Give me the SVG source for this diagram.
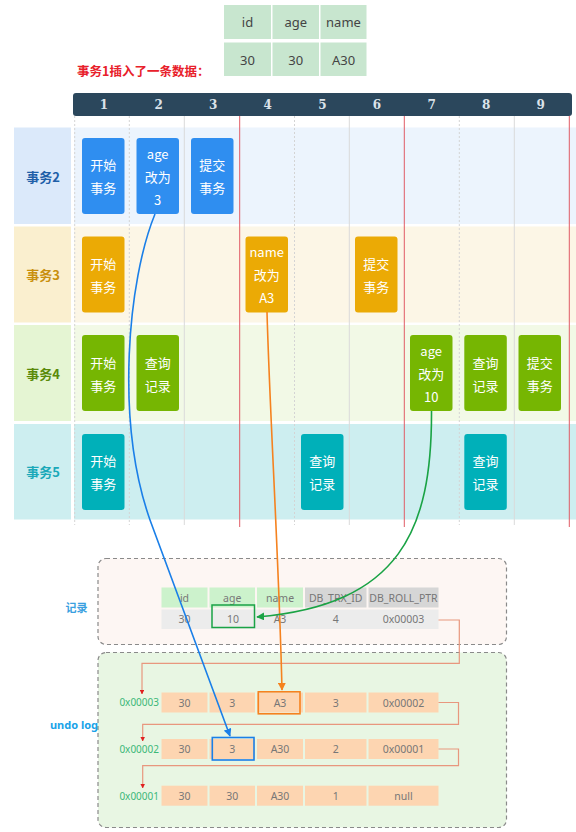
<svg xmlns="http://www.w3.org/2000/svg" width="576" height="832" viewBox="0 0 576 832">
<defs>
<style>
text{font-family:"Noto Sans","Noto Sans CJK SC",sans-serif;}
.cjk{font-family:"Noto Sans CJK SC","Noto Sans",sans-serif;}
.bt{fill:#fff;font-size:13px;text-anchor:middle;dominant-baseline:central;font-family:"Noto Sans CJK SC","Noto Sans",sans-serif;}
.hn{fill:#dbe3ea;font-size:12px;font-weight:bold;text-anchor:middle;dominant-baseline:central;font-family:"DejaVu Serif",serif;}
.rl{font-size:13px;font-weight:bold;text-anchor:middle;dominant-baseline:central;font-family:"Noto Sans CJK SC","Noto Sans",sans-serif;}
.tt{fill:#444;font-size:13px;text-anchor:middle;dominant-baseline:central;}
.ct{fill:#777;font-size:10.5px;text-anchor:middle;dominant-baseline:central;}
.ad{fill:#3cb878;font-size:10px;text-anchor:end;dominant-baseline:central;}
.dot{stroke:#d4d4d4;stroke-width:1;stroke-dasharray:2,2;}
.sol{stroke:#dadada;stroke-width:1;}
.red{stroke:#e05c66;stroke-width:1;}
.blue{fill:#2f8ef0;}
.orng{fill:#ebaa05;}
.grn{fill:#76b602;}
.teal{fill:#00b0b9;}
.ptr{fill:none;stroke:#e8977e;stroke-width:1.2;}
.uc{fill:#fdd5b1;}
</style>
<marker id="mRed" viewBox="0 0 10 10" refX="9" refY="5" markerWidth="4" markerHeight="4" orient="auto"><path d="M0,0 L10,5 L0,10 z" fill="#e02020"/></marker>
<marker id="mBlue" viewBox="0 0 10 10" refX="9" refY="5" markerWidth="5" markerHeight="5" orient="auto"><path d="M0,0 L10,5 L0,10 z" fill="#1a7fe8"/></marker>
<marker id="mOrg" viewBox="0 0 10 10" refX="9" refY="5" markerWidth="5" markerHeight="5" orient="auto"><path d="M0,0 L10,5 L0,10 z" fill="#f5821f"/></marker>
<marker id="mGrn" viewBox="0 0 10 10" refX="9" refY="5" markerWidth="5" markerHeight="5" orient="auto"><path d="M0,0 L10,5 L0,10 z" fill="#1aa345"/></marker>
</defs>
<rect width="576" height="832" fill="#fff"/>

<!-- top insert table -->
<g id="insert-table">
<rect x="224" y="5" width="47" height="34" fill="#c8e6cf"/>
<rect x="272.5" y="5" width="46.5" height="34" fill="#c8e6cf"/>
<rect x="320.5" y="5" width="46" height="34" fill="#c8e6cf"/>
<rect x="224" y="42.5" width="47" height="33.5" fill="#c8e6cf"/>
<rect x="272.5" y="42.5" width="46.5" height="33.5" fill="#c8e6cf"/>
<rect x="320.5" y="42.5" width="46" height="33.5" fill="#c8e6cf"/>
<text class="tt" x="247.5" y="22">id</text>
<text class="tt" x="295.7" y="22">age</text>
<text class="tt" x="343.5" y="22">name</text>
<text class="tt" x="247.5" y="59.5">30</text>
<text class="tt" x="295.7" y="59.5">30</text>
<text class="tt" x="343.5" y="59.5">A30</text>
</g>
<text class="cjk" x="77" y="70" fill="#e8202a" font-size="12.5" font-weight="bold" dominant-baseline="central">事务1插入了一条数据：</text>

<!-- header -->
<g id="header">
<rect x="73" y="93" width="499" height="23" rx="3" fill="#2b475c"/>
<text class="hn" x="104" y="105">1</text>
<text class="hn" x="158.6" y="105">2</text>
<text class="hn" x="213.2" y="105">3</text>
<text class="hn" x="267.8" y="105">4</text>
<text class="hn" x="322.4" y="105">5</text>
<text class="hn" x="377" y="105">6</text>
<text class="hn" x="431.6" y="105">7</text>
<text class="hn" x="486.2" y="105">8</text>
<text class="hn" x="540.8" y="105">9</text>
</g>

<!-- rows -->
<g id="rows">
<rect x="14" y="127.5" width="57" height="96.5" fill="#dbe9fa"/>
<rect x="74" y="127.5" width="502" height="96.5" fill="#ecf4fd"/>
<rect x="14" y="226.5" width="57" height="96" fill="#faefcf"/>
<rect x="74" y="226.5" width="502" height="96" fill="#fcf6e6"/>
<rect x="14" y="325" width="57" height="96" fill="#e5f5d3"/>
<rect x="74" y="325" width="502" height="96" fill="#f2f9e6"/>
<rect x="14" y="424" width="57" height="95.5" fill="#cdeef0"/>
<rect x="74" y="424" width="502" height="95.5" fill="#cdeef0"/>
<text class="rl" x="43" y="176" fill="#1f5fa8">事务2</text>
<text class="rl" x="43" y="274.5" fill="#c9900e">事务3</text>
<text class="rl" x="43" y="373" fill="#5a8a0a">事务4</text>
<text class="rl" x="43" y="471.5" fill="#1ba9b9">事务5</text>
</g>

<!-- grid lines -->
<g id="grid">
<line class="dot" x1="74.7" y1="116" x2="74.7" y2="525"/>
<line class="dot" x1="129.3" y1="116" x2="129.3" y2="525"/>
<line class="sol" x1="184.3" y1="116" x2="184.3" y2="525"/>
<line class="red" x1="239.7" y1="116" x2="239.7" y2="527"/>
<line class="dot" x1="294.5" y1="116" x2="294.5" y2="525"/>
<line class="sol" x1="349.3" y1="116" x2="349.3" y2="525"/>
<line class="red" x1="404.3" y1="116" x2="404.3" y2="527"/>
<line class="dot" x1="459.3" y1="116" x2="459.3" y2="525"/>
<line class="sol" x1="514.3" y1="116" x2="514.3" y2="525"/>
<line class="red" x1="569.3" y1="116" x2="569.3" y2="527"/>
</g>

<!-- 事务2 -->
<g id="t2-c1"><rect class="blue" x="82" y="138" width="42.5" height="76" rx="3"/><text class="bt" x="103.2" y="164">开始</text><text class="bt" x="103.2" y="187">事务</text></g>
<g id="t2-c2"><rect class="blue" x="136.5" y="138" width="42.5" height="76" rx="3"/><text class="bt" x="157.7" y="153">age</text><text class="bt" x="157.7" y="176">改为</text><text class="bt" x="157.7" y="199">3</text></g>
<g id="t2-c3"><rect class="blue" x="191" y="138" width="42.5" height="76" rx="3"/><text class="bt" x="212.2" y="164">提交</text><text class="bt" x="212.2" y="187">事务</text></g>
<!-- 事务3 -->
<g id="t3-c1"><rect class="orng" x="82" y="236.5" width="42.5" height="76" rx="3"/><text class="bt" x="103.2" y="263">开始</text><text class="bt" x="103.2" y="286">事务</text></g>
<g id="t3-c4"><rect class="orng" x="245.5" y="236.5" width="42.5" height="76" rx="3"/><text class="bt" x="266.7" y="251">name</text><text class="bt" x="266.7" y="274">改为</text><text class="bt" x="266.7" y="297">A3</text></g>
<g id="t3-c6"><rect class="orng" x="355" y="236.5" width="42.5" height="76" rx="3"/><text class="bt" x="376.2" y="263">提交</text><text class="bt" x="376.2" y="286">事务</text></g>
<!-- 事务4 -->
<g id="t4-c1"><rect class="grn" x="82" y="335" width="42.5" height="76" rx="3"/><text class="bt" x="103.2" y="362">开始</text><text class="bt" x="103.2" y="385">事务</text></g>
<g id="t4-c2"><rect class="grn" x="136.5" y="335" width="42.5" height="76" rx="3"/><text class="bt" x="157.7" y="362">查询</text><text class="bt" x="157.7" y="385">记录</text></g>
<g id="t4-c7"><rect class="grn" x="410" y="335" width="42.5" height="76" rx="3"/><text class="bt" x="431.2" y="350">age</text><text class="bt" x="431.2" y="373">改为</text><text class="bt" x="431.2" y="396">10</text></g>
<g id="t4-c8"><rect class="grn" x="464.3" y="335" width="42.5" height="76" rx="3"/><text class="bt" x="485.5" y="362">查询</text><text class="bt" x="485.5" y="385">记录</text></g>
<g id="t4-c9"><rect class="grn" x="518.5" y="335" width="42.5" height="76" rx="3"/><text class="bt" x="539.7" y="362">提交</text><text class="bt" x="539.7" y="385">事务</text></g>
<!-- 事务5 -->
<g id="t5-c1"><rect class="teal" x="82" y="434" width="42.5" height="76" rx="3"/><text class="bt" x="103.2" y="460">开始</text><text class="bt" x="103.2" y="483">事务</text></g>
<g id="t5-c5"><rect class="teal" x="301" y="434" width="42.5" height="76" rx="3"/><text class="bt" x="322.2" y="460">查询</text><text class="bt" x="322.2" y="483">记录</text></g>
<g id="t5-c8"><rect class="teal" x="464.3" y="434" width="42.5" height="76" rx="3"/><text class="bt" x="485.5" y="460">查询</text><text class="bt" x="485.5" y="483">记录</text></g>

<!-- record box -->
<g id="record">
<rect x="98" y="558.5" width="408.5" height="86" rx="8" fill="#fdf6f3" stroke="#8a8a8a" stroke-width="1.2" stroke-dasharray="4,3"/>
<text class="cjk" x="76.5" y="606.5" fill="#3aa0e0" font-size="11" font-weight="bold" text-anchor="middle" dominant-baseline="central">记录</text>
<rect x="161.5" y="587.5" width="46" height="20" fill="#ccf2cc"/>
<rect x="209.5" y="587.5" width="45.5" height="20" fill="#ccf2cc"/>
<rect x="257" y="587.5" width="46" height="20" fill="#ccf2cc"/>
<rect x="305" y="587.5" width="61.5" height="20" fill="#d6d6d6"/>
<rect x="368.5" y="587.5" width="70" height="20" fill="#d6d6d6"/>
<rect x="161.5" y="609.5" width="277" height="19.5" fill="#ececec"/>
<text class="ct" x="184.5" y="597.5">id</text>
<text class="ct" x="232.2" y="597.5">age</text>
<text class="ct" x="280" y="597.5">name</text>
<text class="ct" x="335.7" y="597.5">DB_TRX_ID</text>
<text class="ct" x="403.5" y="597.5">DB_ROLL_PTR</text>
<text class="ct" x="184.5" y="619">30</text>
<text class="ct" x="233" y="619">10</text>
<text class="ct" x="280" y="619">A3</text>
<text class="ct" x="335.7" y="619">4</text>
<text class="ct" x="403.5" y="619">0x00003</text>
<rect x="212" y="605" width="42.5" height="22.5" fill="none" stroke="#1aa345" stroke-width="1.5"/>
</g>

<!-- undo log box -->
<g id="undolog">
<rect x="98" y="652.5" width="408.5" height="175" rx="8" fill="#e8f6e3" stroke="#8a8a8a" stroke-width="1.2" stroke-dasharray="4,3"/>
<text x="74" y="724.5" fill="#1aa3e8" font-size="11" font-weight="bold" text-anchor="middle" dominant-baseline="central">undo log</text>
</g>
<g id="undo-row-0x00003">
<text class="ad" x="159" y="702.3">0x00003</text>
<rect class="uc" x="161.5" y="692.5" width="46" height="20"/>
<rect class="uc" x="209.5" y="692.5" width="45.5" height="20"/>
<rect class="uc" x="257" y="692.5" width="46" height="20"/>
<rect class="uc" x="305" y="692.5" width="61.5" height="20"/>
<rect class="uc" x="368.5" y="692.5" width="70" height="20"/>
<text class="ct" x="184.5" y="702.5">30</text><text class="ct" x="232.2" y="702.5">3</text><text class="ct" x="280" y="702.5">A3</text><text class="ct" x="335.7" y="702.5">3</text><text class="ct" x="403.5" y="702.5">0x00002</text>
<rect x="258.3" y="691.8" width="41.7" height="22" fill="none" stroke="#f5821f" stroke-width="1.6"/>
</g>
<g id="undo-row-0x00002">
<text class="ad" x="159" y="749">0x00002</text>
<rect class="uc" x="161.5" y="739" width="46" height="20"/>
<rect class="uc" x="209.5" y="739" width="45.5" height="20"/>
<rect class="uc" x="257" y="739" width="46" height="20"/>
<rect class="uc" x="305" y="739" width="61.5" height="20"/>
<rect class="uc" x="368.5" y="739" width="70" height="20"/>
<text class="ct" x="184.5" y="749">30</text><text class="ct" x="232.2" y="749">3</text><text class="ct" x="280" y="749">A30</text><text class="ct" x="335.7" y="749">2</text><text class="ct" x="403.5" y="749">0x00001</text>
<rect x="212.3" y="737.5" width="41.7" height="22.5" fill="none" stroke="#1a7fe8" stroke-width="1.6"/>
</g>
<g id="undo-row-0x00001">
<text class="ad" x="159" y="795.7">0x00001</text>
<rect class="uc" x="161.5" y="785.7" width="46" height="20"/>
<rect class="uc" x="209.5" y="785.7" width="45.5" height="20"/>
<rect class="uc" x="257" y="785.7" width="46" height="20"/>
<rect class="uc" x="305" y="785.7" width="61.5" height="20"/>
<rect class="uc" x="368.5" y="785.7" width="70" height="20"/>
<text class="ct" x="184.5" y="795.7">30</text><text class="ct" x="232.2" y="795.7">30</text><text class="ct" x="280" y="795.7">A30</text><text class="ct" x="335.7" y="795.7">1</text><text class="ct" x="403.5" y="795.7">null</text>
</g>

<!-- connectors -->
<g id="connectors">
<path class="ptr" d="M438.5,620 H459.3 V663.3 H142 V694" marker-end="url(#mRed)"/>
<path class="ptr" d="M438.5,702.5 H458.5 V724.3 H142.7 V741" marker-end="url(#mRed)"/>
<path class="ptr" d="M438.5,749 H458.5 V765.7 H142.7 V788" marker-end="url(#mRed)"/>
<path d="M155,214 C128,280 115,420 150,520 L230,736" fill="none" stroke="#1a7fe8" stroke-width="1.6" marker-end="url(#mBlue)"/>
<path d="M267,312 C270,420 279,560 282,690" fill="none" stroke="#f5821f" stroke-width="1.6" marker-end="url(#mOrg)"/>
<path d="M431.5,411 C432,530 400,605 257,617" fill="none" stroke="#1aa345" stroke-width="1.6" marker-end="url(#mGrn)"/>
</g>
</svg>
